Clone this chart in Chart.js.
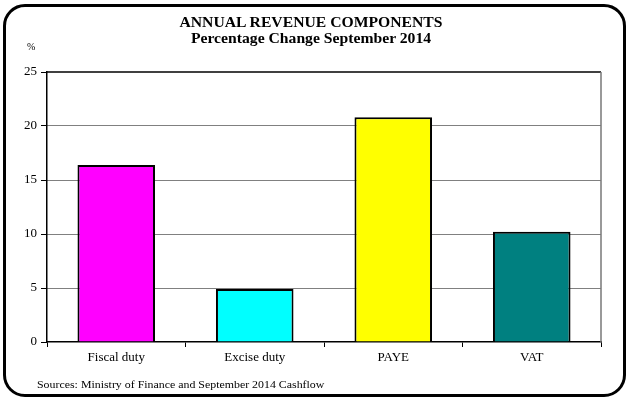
<!DOCTYPE html>
<html lang="en">
<head>
  <meta charset="UTF-8" />
  <title>Annual Revenue Components</title>
  <script src="https://cdn.jsdelivr.net/npm/chart.js"></script>
  <style>
    body{margin:0;background:#fff;font-family:"Liberation Serif","Times New Roman",serif}
    .wrap{position:relative;width:629px;height:400px}
    .frame{position:absolute;left:3px;top:4px;width:617px;height:387px;border:3px solid #000;border-radius:22px}
    canvas{position:absolute;left:0;top:0}
    .title{position:absolute;left:0;width:622px;text-align:center;font-weight:bold;font-size:14px;line-height:16px;top:15px;color:#000;transform:scaleX(1.12);transform-origin:311px 0}
    .unit{position:absolute;left:27px;top:41px;font-size:10px}
    .src{position:absolute;left:37px;top:378px;font-size:11px;transform:scaleX(1.08);transform-origin:0 0}
  </style>
</head>
<body>
<div class="wrap">
  <div class="frame"></div>
  <canvas id="chart" width="629" height="400"></canvas>
  <div class="title">ANNUAL REVENUE COMPONENTS<br>Percentage Change September 2014</div>
  <div class="unit">%</div>
  <div class="src">Sources: Ministry of Finance and September 2014 Cashflow</div>
</div>
<script>
const categories = ['Fiscal duty','Excise duty','PAYE','VAT'];
const pctChange  = [16.4, 4.9, 20.8, 10.2];
const barColors  = ['#ff00ff','#00ffff','#ffff00','#008080'];

// top + right frame lines of the plot
const plotFrame = {
  id:'plotFrame',
  afterDraw(c){
    const a=c.chartArea, x=c.ctx;
    x.save();
    x.lineWidth=1.5;
    x.strokeStyle='#000';
    x.beginPath(); x.moveTo(a.left,a.top); x.lineTo(a.right,a.top); x.stroke();
    x.strokeStyle='#777';
    x.beginPath(); x.moveTo(a.right,a.top); x.lineTo(a.right,a.bottom); x.stroke();
    x.restore();
  }
};

new Chart(document.getElementById('chart'),{
  type:'bar',
  data:{
    labels:categories,
    datasets:[{data:pctChange,backgroundColor:barColors,borderColor:'#000',borderWidth:2,
      barPercentage:1,categoryPercentage:0.56}]
  },
  options:{
    responsive:false,
    animation:false,
    layout:{padding:{top:72,right:28,bottom:0,left:0}},
    plugins:{legend:{display:false},tooltip:{enabled:false}},
    scales:{
      x:{
        afterFit:s=>{s.height=58;},
        grid:{drawOnChartArea:false,tickLength:5,color:'#000',tickColor:'#000'},
        border:{color:'#000',width:1.5},
        ticks:{color:'#000',font:{family:'Liberation Serif',size:13},padding:3}
      },
      y:{
        min:0,max:25,
        afterFit:s=>{s.width=47;},
        grid:{
          color:c=>(c.tick && (c.tick.value===0||c.tick.value===25))?'rgba(0,0,0,0)':'#000',
          tickColor:'#000',tickLength:6,lineWidth:1
        },
        border:{color:'#000',width:1.5,dash:[1,1]},
        ticks:{stepSize:5,color:'#000',font:{family:'Liberation Serif',size:13},padding:4}
      }
    }
  },
  plugins:[plotFrame]
});
</script>
</body>
</html>
